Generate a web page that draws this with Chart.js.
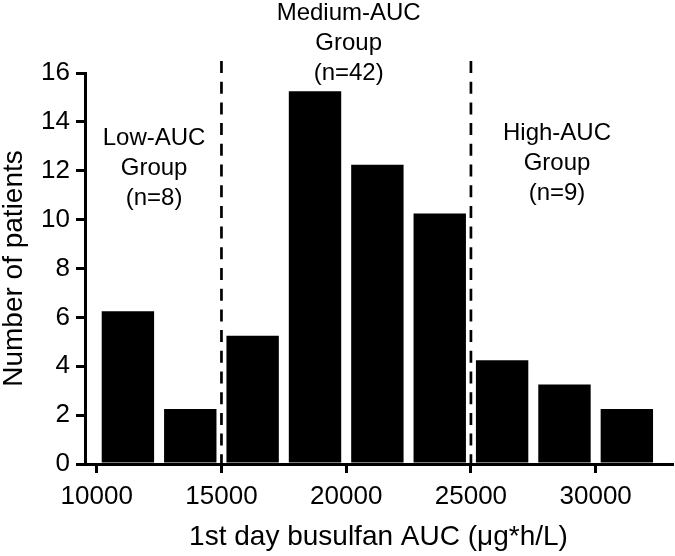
<!DOCTYPE html>
<html>
<head>
<meta charset="utf-8">
<script src="https://cdn.jsdelivr.net/npm/chart.js@4.4.0/dist/chart.umd.min.js"></script>
<style>
html, body { margin: 0; padding: 0; background: #fff; }
#wrap { width: 675px; height: 556px; }
</style>
</head>
<body>
<div id="wrap"><canvas id="chart"></canvas></div>
<script>
// histogram bins (centre of each 2500-wide AUC bin) and bar heights as drawn
const binCentres = [11250, 13750, 16250, 18750, 21250, 23750, 26250, 28750, 31250];
const patientCounts = [6.25, 2.25, 5.25, 15.25, 12.25, 10.25, 4.25, 3.25, 2.25];
const xTicks = [10000, 15000, 20000, 25000, 30000];
const yTicks = [0, 2, 4, 6, 8, 10, 12, 14, 16];
const cutoffs = [15000, 25000];
const groupNames = ["Low-AUC", "Medium-AUC", "High-AUC"];
const groupSizes = [8, 42, 9];

const FONT = "'Liberation Sans', Arial, Helvetica, sans-serif";
Chart.defaults.font.family = FONT;
Chart.defaults.color = "#000";

// dashed cut-off lines and group captions
const groupsPlugin = {
    id: "groups",
    afterDatasetsDraw(chart, args, opts)
    {
        const {ctx, chartArea} = chart;
        const x = chart.scales.x;
        ctx.save();
        ctx.strokeStyle = "#000";
        ctx.lineWidth = 2.7;
        ctx.setLineDash([12, 8.7]);
        cutoffs.forEach(v => {
            const px = x.getPixelForValue(v);
            ctx.beginPath();
            ctx.moveTo(px, chartArea.top - 12);
            ctx.lineTo(px, chartArea.bottom);
            ctx.stroke();
        });
        ctx.setLineDash([]);
        ctx.fillStyle = "#000";
        ctx.font = "24px " + FONT;
        ctx.textAlign = "center";
        ctx.textBaseline = "alphabetic";
        groupNames.forEach((name, i) => {
            const px = x.getPixelForValue(opts.centres[i]);
            const top = chartArea.top + opts.offsets[i];
            const lines = [name, "Group", "(n=" + groupSizes[i] + ")"];
            lines.forEach((t, j) => ctx.fillText(t, px, top + j * 30));
        });
        ctx.restore();
    }
};

const axisGrid = {
    drawOnChartArea: false,
    drawTicks: true,
    offset: false,
    tickLength: 9,
    lineWidth: 3,
    color: "#000"
};

const ctx = document.getElementById("chart");
const chart = new Chart(ctx, {
    type: "bar",
    data: {
        datasets: [{
            data: binCentres.map((c, i) => ({x: c, y: patientCounts[i]})),
            backgroundColor: "#000",
            borderWidth: 0,
            barPercentage: 0.84,
            categoryPercentage: 1
        }]
    },
    plugins: [groupsPlugin],
    options: {
        responsive: true,
        maintainAspectRatio: false,
        animation: false,
        layout: { padding: { top: 73, right: 3, left: 0, bottom: 0 } },
        plugins: {
            legend: { display: false },
            tooltip: { enabled: false },
            groups: {
                centres: [12300, 20100, 28450],
                offsets: [72, -53, 67]
            }
        },
        scales: {
            x: {
                type: "linear",
                min: 9530,
                max: 33060,
                offset: false,
                afterBuildTicks: s => { s.ticks = xTicks.map(v => ({value: v})); },
                afterFit: s => { s.height = 92; },
                ticks: {
                    font: { size: 26 },
                    color: "#000",
                    padding: 8,
                    maxRotation: 0,
                    callback: v => String(v)
                },
                grid: axisGrid,
                border: { display: true, width: 3, color: "#000" },
                title: {
                    display: true,
                    text: "1st day busulfan AUC (\u03bcg*h/L)",
                    font: { size: 28, lineHeight: 1.2 },
                    color: "#000",
                    padding: { top: 0, bottom: 2 }
                }
            },
            y: {
                min: 0,
                max: 16,
                afterBuildTicks: s => { s.ticks = yTicks.map(v => ({value: v})); },
                afterFit: s => { s.width = 85; },
                ticks: {
                    font: { size: 26 },
                    color: "#000",
                    padding: 6
                },
                grid: axisGrid,
                border: { display: true, width: 3, color: "#000" },
                title: {
                    display: true,
                    text: "Number of patients",
                    font: { size: 28, lineHeight: 1 },
                    color: "#000",
                    padding: { top: 0, bottom: 0 }
                }
            }
        }
    }
});
</script>
</body>
</html>
